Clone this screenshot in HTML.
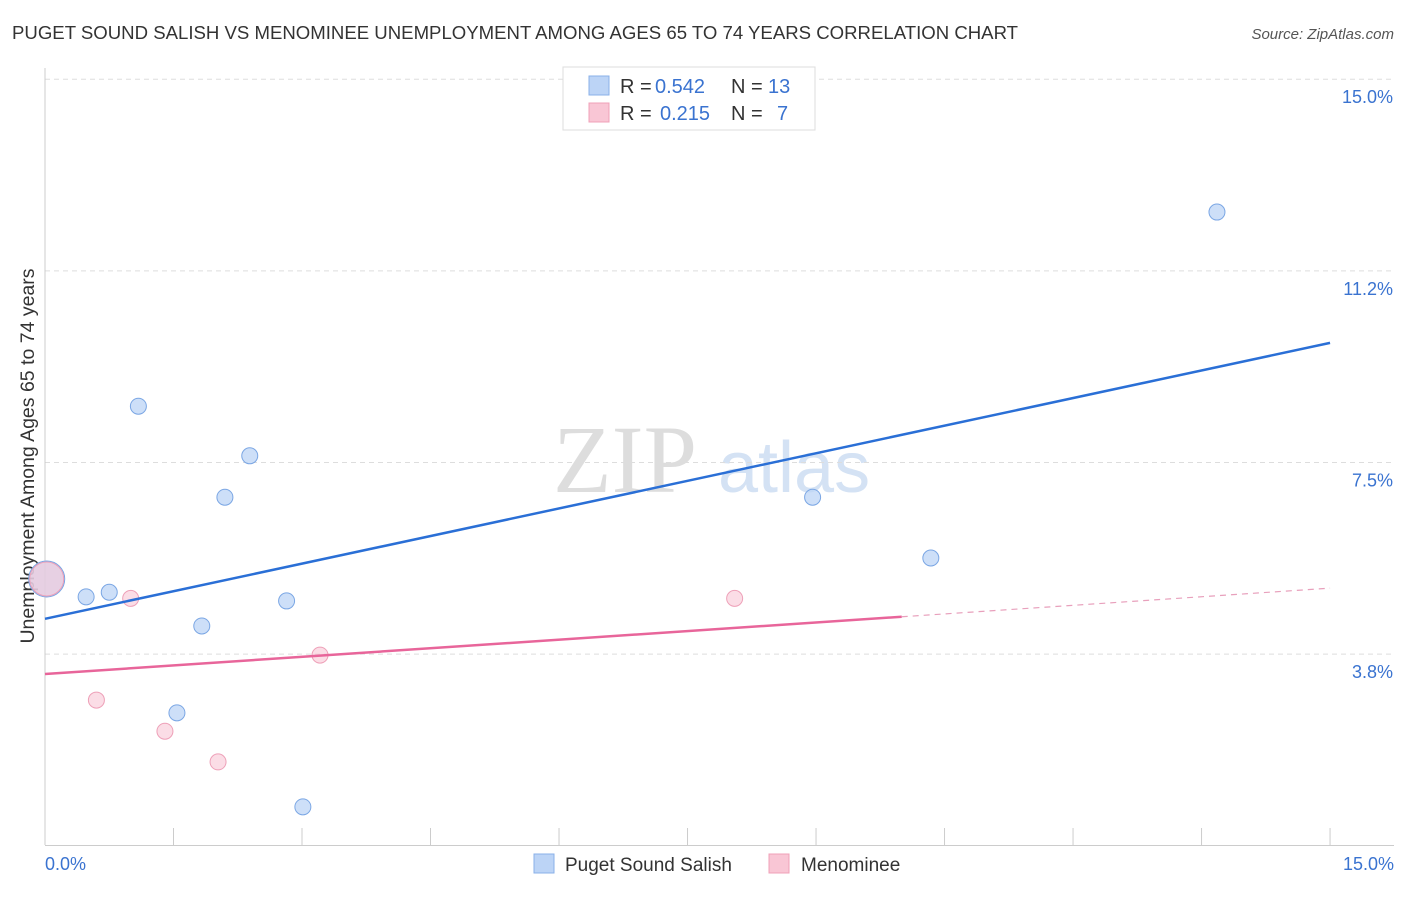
<!DOCTYPE html>
<html><head><meta charset="utf-8"><style>
body{margin:0;background:#fff;font-family:"Liberation Sans",sans-serif;}
</style></head><body>
<svg id="c" width="1406" height="892" xmlns="http://www.w3.org/2000/svg" font-family="Liberation Sans, sans-serif">
<text x="12" y="39" font-size="18.6" fill="#333">PUGET SOUND SALISH VS MENOMINEE UNEMPLOYMENT AMONG AGES 65 TO 74 YEARS CORRELATION CHART</text>
<text x="1394" y="39" font-size="15" fill="#555" text-anchor="end" font-style="italic">Source: ZipAtlas.com</text>
<text x="0" y="0" transform="translate(34,456) rotate(-90)" font-size="19.5" fill="#333" text-anchor="middle">Unemployment Among Ages 65 to 74 years</text>
<g><text x="553" y="492" font-size="96" fill="#ddd" style="font-family:'Liberation Serif',serif">ZIP</text><text x="718" y="492" font-size="72" fill="#d4e2f4">atlas</text></g>
<g id="grid"></g><g id="marks"></g>
<g>
<rect x="563" y="67" width="252" height="63" fill="#fff" stroke="#ddd"/>
<rect x="589" y="76" width="20" height="19" fill="#bcd4f6" stroke="#8ab0e8"/>
<rect x="589" y="103" width="20" height="19" fill="#f9c6d5" stroke="#f0a0b8"/>
<text x="620" y="93" font-size="20" fill="#333">R =</text>
<text x="655" y="93" font-size="20" fill="#3a73d0">0.542</text>
<text x="731" y="93" font-size="20" fill="#333">N =</text>
<text x="768" y="93" font-size="20" fill="#3a73d0">13</text>
<text x="620" y="120" font-size="20" fill="#333">R =</text>
<text x="660" y="120" font-size="20" fill="#3a73d0">0.215</text>
<text x="731" y="120" font-size="20" fill="#333">N =</text>
<text x="777" y="120" font-size="20" fill="#3a73d0">7</text>
</g>
<g>
<rect x="534" y="854" width="20" height="19" fill="#bcd4f6" stroke="#8ab0e8"/>
<text x="565" y="871" font-size="19" fill="#333">Puget Sound Salish</text>
<rect x="769" y="854" width="20" height="19" fill="#f9c6d5" stroke="#f0a0b8"/>
<text x="801" y="871" font-size="19" fill="#333">Menominee</text>
</g>
</svg>
<script>
const yTicks=[3.75,7.5,11.25,15];
const yTickLabels=["3.8%","7.5%","11.2%","15.0%"];
const xTicks=[0,1.5,3,4.5,6,7.5,9,10.5,12,13.5,15];
const blueX=[0.02,0.48,0.75,1.09,1.54,1.83,2.1,2.39,2.82,3.01,8.96,10.34,13.68];
const blueY=[5.22,4.87,4.96,8.6,2.6,4.3,6.82,7.63,4.79,0.76,6.82,5.63,12.4];
const pinkX=[0.02,0.6,1.0,1.4,2.02,3.21,8.05];
const pinkY=[5.22,2.85,4.84,2.24,1.64,3.73,4.84];
const blueTrend=[4.44,9.84];
const pinkTrend=[3.36,5.04];
const pinkSolidEnd=10.0;
const sx=v=>45+v*85.67, sy=v=>845.7-v*51.1;
const NS="http://www.w3.org/2000/svg";
function mk(p,t,a){const e=document.createElementNS(NS,t);for(const k in a)e.setAttribute(k,a[k]);p.appendChild(e);return e;}
const g=document.getElementById('grid'),m=document.getElementById('marks');
yTicks.forEach((v,i)=>{const l=mk(g,'line',{x1:45,x2:1394,y1:sy(v),y2:sy(v),stroke:'#ddd','stroke-dasharray':'5,4'});


const t=mk(g,'text',{x:1393,y:sy(v)+24,'font-size':18,fill:'#3a73d0','text-anchor':'end'});t.textContent=yTickLabels[i];

});
const ax=mk(g,'line',{x1:45,x2:1394,y1:845.5,y2:845.5,stroke:'#ccc'});


const ay=mk(g,'line',{x1:45,x2:45,y1:68,y2:845,stroke:'#ccc'});


xTicks.forEach(v=>{const l=mk(g,'line',{x1:sx(v),x2:sx(v),y1:828,y2:845,stroke:'#ccc'});

});
[[0,'start',45,"0.0%"],[15,'end',1394,"15.0%"]].forEach(d=>{const t=mk(g,'text',{x:d[2],y:870,'font-size':18,fill:'#3a73d0','text-anchor':d[1]});t.textContent=d[3];

});
blueX.forEach((x,i)=>{const c=mk(m,'circle',{cx:sx(x),cy:sy(blueY[i]),r:i==0?18:8,fill:'#bcd4f6','fill-opacity':0.75,stroke:'#7aa6e4'});

});
pinkX.forEach((x,i)=>{const c=mk(m,'circle',{cx:sx(x),cy:sy(pinkY[i]),r:i==0?17:8,fill:'#f9c6d5','fill-opacity':0.6,stroke:'#eea0b8'});

});
const bl=mk(m,'line',{x1:sx(0),y1:sy(blueTrend[0]),x2:sx(15),y2:sy(blueTrend[1]),stroke:'#2a6fd6','stroke-width':2.5});


const pe=pinkTrend[0]+(pinkTrend[1]-pinkTrend[0])*pinkSolidEnd/15;
const pl=mk(m,'line',{x1:sx(0),y1:sy(pinkTrend[0]),x2:sx(pinkSolidEnd),y2:sy(pe),stroke:'#e8659a','stroke-width':2.5});


const pd=mk(m,'line',{x1:sx(pinkSolidEnd),y1:sy(pe),x2:sx(15),y2:sy(pinkTrend[1]),stroke:'#e8a0bc','stroke-width':1.2,'stroke-dasharray':'6,5'});


</script>
</body></html>
